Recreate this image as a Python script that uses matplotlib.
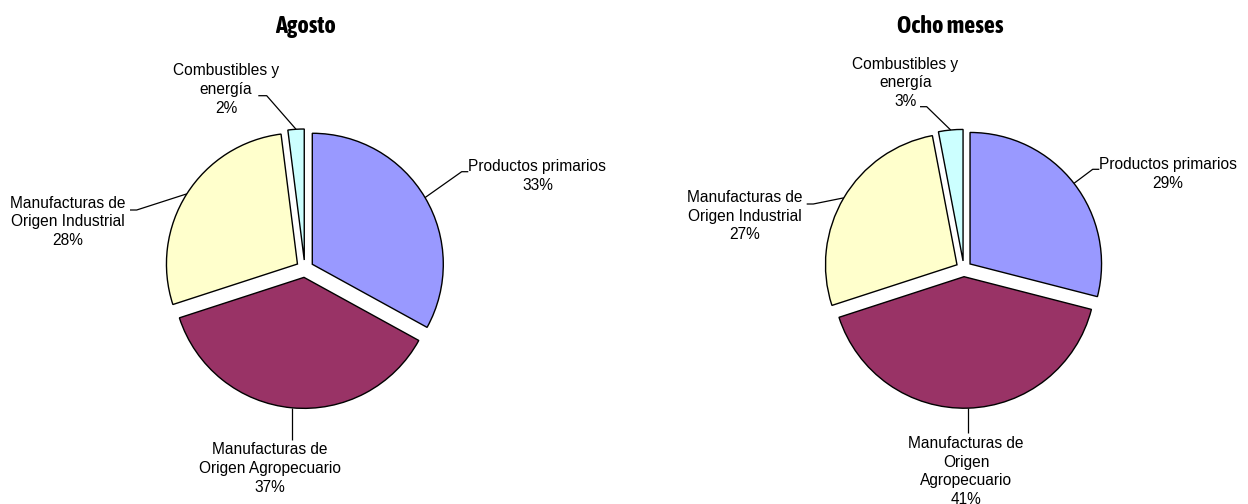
import matplotlib
matplotlib.use('Agg')
import matplotlib.pyplot as plt
from matplotlib import font_manager
import matplotlib.patheffects as pe
import numpy as np

# ---------------- data ----------------
categories = ['Productos primarios',
              'Manufacturas de Origen Agropecuario',
              'Manufacturas de Origen Industrial',
              'Combustibles y energía']
agosto = [33, 37, 28, 2]
ocho_meses = [29, 41, 27, 3]
titles = ['Agosto', 'Ocho meses']
# label names with the line breaks used in each chart
names_agosto = ['Productos primarios', 'Manufacturas de\nOrigen Agropecuario',
                'Manufacturas de\nOrigen Industrial', 'Combustibles y\nenergía']
names_ocho = ['Productos primarios', 'Manufacturas de\nOrigen\nAgropecuario',
              'Manufacturas de\nOrigen Industrial', 'Combustibles y\nenergía']
colors = ['#9999FF', '#993366', '#FFFFCC', '#CCFFFF']

# ---------------- layout (pixel coordinates, y measured from top) ----------------
W, H = 1248, 504
pies = [
    dict(values=agosto, names=names_agosto, center=(304.8, 268.7), r=131.0, explode=8.7,
         title=(305.5, 33.3),
         labels=[  # text x, last-line baseline y, elbow, end
             dict(text=(537.4, 190.0), elbow=(461.7, 171.7), end=(468.3, 171.7)),
             dict(text=(270.0, 491.7), elbow=None, end=440.0),
             dict(text=(68.0, 245.0), elbow=(136.7, 210.0), end=(130.0, 210.0)),
             dict(text=(226.0, 112.7), elbow=(266.7, 95.7), end=(258.3, 95.7)),
         ]),
    dict(values=ocho_meses, names=names_ocho, center=(963.8, 268.8), r=131.5, explode=7.9,
         title=(950.0, 33.3),
         labels=[
             dict(text=(1168.0, 187.7), elbow=(1092.7, 169.3), end=(1099.3, 169.3)),
             dict(text=(966.0, 504.0), elbow=None, end=433.3),
             dict(text=(744.7, 239.3), elbow=(813.3, 204.0), end=(806.7, 204.0)),
             dict(text=(905.3, 106.0), elbow=(926.7, 106.7), end=(920.0, 106.7)),
         ]),
]


def Y(y):
    return H - y


# ---- choose a condensed bold family for the titles ----
def _w(f):
    w = f.weight
    if isinstance(w, str):
        w = font_manager.weight_dict.get(w, 400)
    return w

ttf = font_manager.fontManager.ttflist
narrow_all = [f for f in ttf if ('Narrow' in f.name or 'Condensed' in f.name)]
narrow_bold = [f for f in narrow_all if _w(f) >= 600]
pref = ['Liberation Sans Narrow']
title_effects = None
title_family = ['Liberation Sans', 'DejaVu Sans']
title_size = 14.5
if narrow_bold:
    names = [f.name for f in narrow_bold]
    pick = next((n for n in pref if n in names), names[0])
    title_family = [pick, 'Liberation Sans', 'DejaVu Sans']
    title_size = 17.5
elif narrow_all:
    names = [f.name for f in narrow_all]
    pick = next((n for n in pref if n in names), names[0])
    title_family = [pick, 'Liberation Sans', 'DejaVu Sans']
    title_size = 16.5
    title_effects = [pe.withStroke(linewidth=1.2, foreground='black')]

fig = plt.figure(figsize=(W / 100, H / 100), dpi=100)
ax = fig.add_axes([0, 0, 1, 1])

label_font = dict(family=['Liberation Sans', 'DejaVu Sans'], size=11.2, color='black')
title_font = dict(family=title_family, size=title_size, weight='bold', color='black')

for i, p in enumerate(pies):
    cx, cy = p['center']
    wedges, _ = ax.pie(p['values'], colors=colors, startangle=90, counterclock=False,
                       explode=[p['explode']] * len(p['values']),
                       center=(cx, Y(cy)), radius=p['r'], frame=True,
                       wedgeprops=dict(edgecolor='black', linewidth=1.0))
    tx, ty = p['title']
    t = ax.text(tx, Y(ty), titles[i], ha='center', va='baseline', **title_font)
    if title_effects:
        t.set_path_effects(title_effects)
    for w, name, val, lab in zip(wedges, p['names'], p['values'], p['labels']):
        mid = np.deg2rad((w.theta1 + w.theta2) / 2)
        ax_x = w.center[0] + w.r * np.cos(mid)
        ax_y = w.center[1] + w.r * np.sin(mid)
        if lab['elbow'] is None:
            xs = [ax_x, ax_x]
            ys = [ax_y, Y(lab['end'])]
        else:
            xs = [ax_x, lab['elbow'][0], lab['end'][0]]
            ys = [ax_y, Y(lab['elbow'][1]), Y(lab['end'][1])]
        ax.plot(xs, ys, color='black', linewidth=0.9, solid_capstyle='butt')
        lx, ly = lab['text']
        ax.text(lx, Y(ly), f"{name}\n{val}%", ha='center', va='baseline',
                multialignment='center', linespacing=1.3, **label_font)

ax.set_xlim(0, W)
ax.set_ylim(0, H)
ax.set_aspect('auto')
ax.axis('off')

fig.savefig('out.png', dpi=100)
